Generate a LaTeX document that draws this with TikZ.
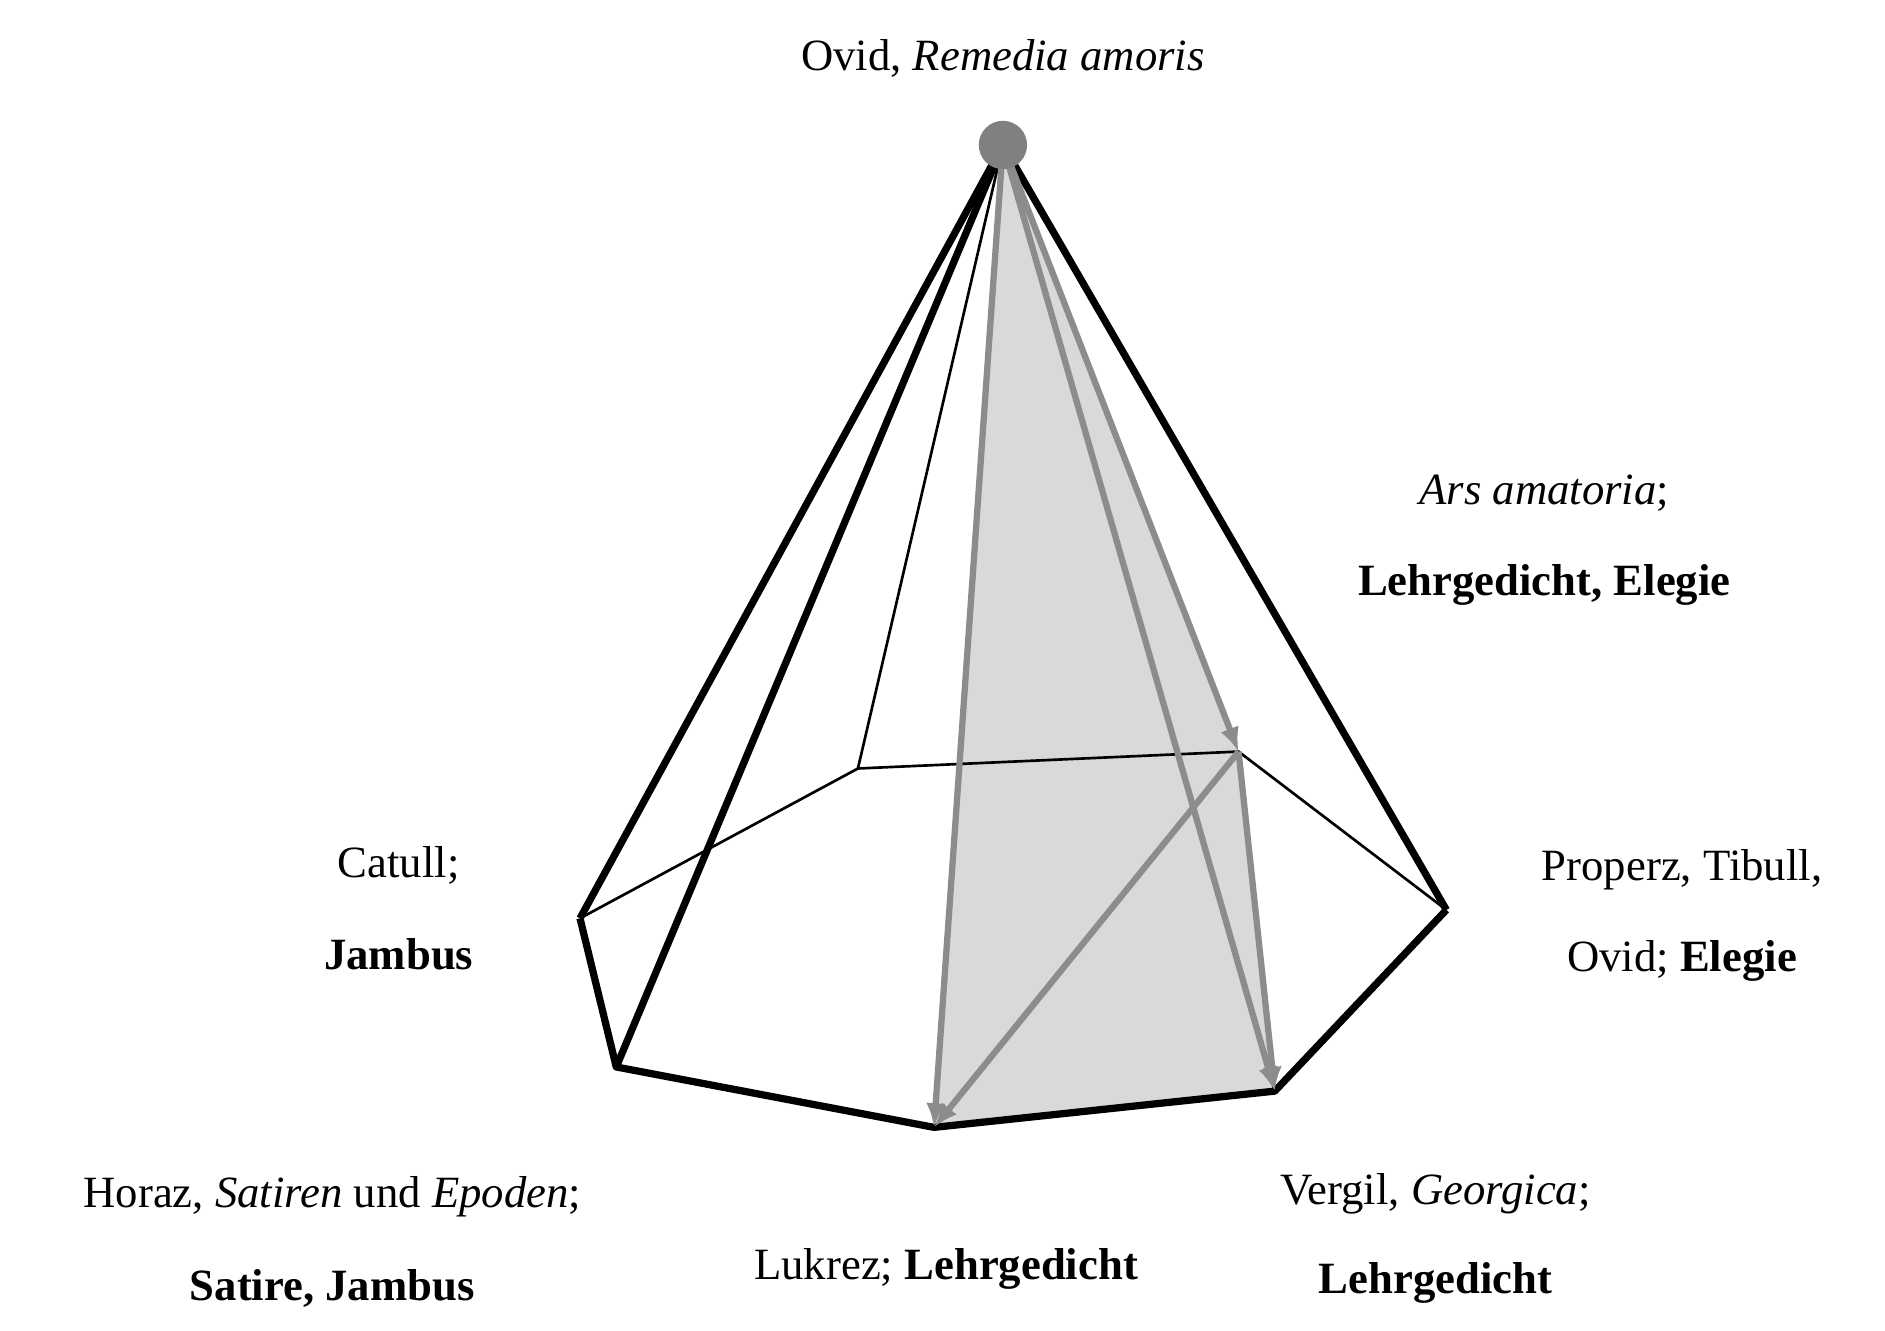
\documentclass[tikz,border=0pt]{standalone}
\usepackage{fontspec}
\setmainfont{Liberation Serif}
\begin{document}
\begin{tikzpicture}[x=0.5pt,y=-0.5pt,
  thick line/.style={line width=3pt,black,line join=round},
  thin line/.style={line width=1.1pt,black},
  garrow/.style={line width=2.6pt,gray!90,-{Latex[length=10pt,width=8pt]}},
  lbl/.style={font=\fontsize{18.5}{22}\selectfont,inner sep=0pt}]
\usetikzlibrary{arrows.meta}
\useasboundingbox (0,0) rectangle (1560,1101);
\coordinate (A) at (830,120);
\coordinate (L) at (480,760);
\coordinate (BL) at (510,883);
\coordinate (B) at (773,933);
\coordinate (BR) at (1055,903);
\coordinate (R) at (1197,753);
\coordinate (BkR) at (1025,622);
\coordinate (BkL) at (710,636);
\fill[gray!30] (A) -- (B) -- (BR) -- (BkR) -- cycle;
\draw[thin line] (R) -- (BkR) -- (BkL) -- (L);
\draw[thin line] (A) -- (BkL);
\draw[thin line] (A) -- (BR);
\draw[thick line] (L) -- (BL) -- (B) -- (BR) -- (R);
\draw[thick line] (A) -- (L);
\draw[thick line] (A) -- (BL);
\draw[thick line] (A) -- (R);
\draw[garrow] (A) -- (B);
\draw[garrow] (A) -- (BkR);
\draw[garrow] (A) -- (BR);
\draw[garrow] (BkR) -- (B);
\draw[garrow] (BkR) -- (BR);
\node[circle,fill=gray,minimum size=20pt,inner sep=0pt] (apex) at (A) {};
\node[lbl] (t1) at (830,48) {Ovid, \textit{Remedia amoris}};
\node[lbl] (t2) at (1278,408) {\textit{Ars amatoria};};
\node[lbl] (t3) at (1278,484) {\textbf{Lehrgedicht, Elegie}};
\node[lbl] (t4) at (330,716) {Catull;};
\node[lbl] (t5) at (330,790) {\textbf{Jambus}};
\node[lbl] (t6) at (1392,720) {Properz, Tibull,};
\node[lbl] (t7) at (1392,795) {Ovid; \textbf{Elegie}};
\node[lbl] (t8) at (275,990) {Horaz, \textit{Satiren} und \textit{Epoden};};
\node[lbl] (t9) at (275,1066) {\textbf{Satire, Jambus}};
\node[lbl] (t10) at (783,1050) {Lukrez; \textbf{Lehrgedicht}};
\node[lbl] (t11) at (1188,988) {Vergil, \textit{Georgica};};
\node[lbl] (t12) at (1188,1062) {\textbf{Lehrgedicht}};
\end{tikzpicture}
\end{document}
